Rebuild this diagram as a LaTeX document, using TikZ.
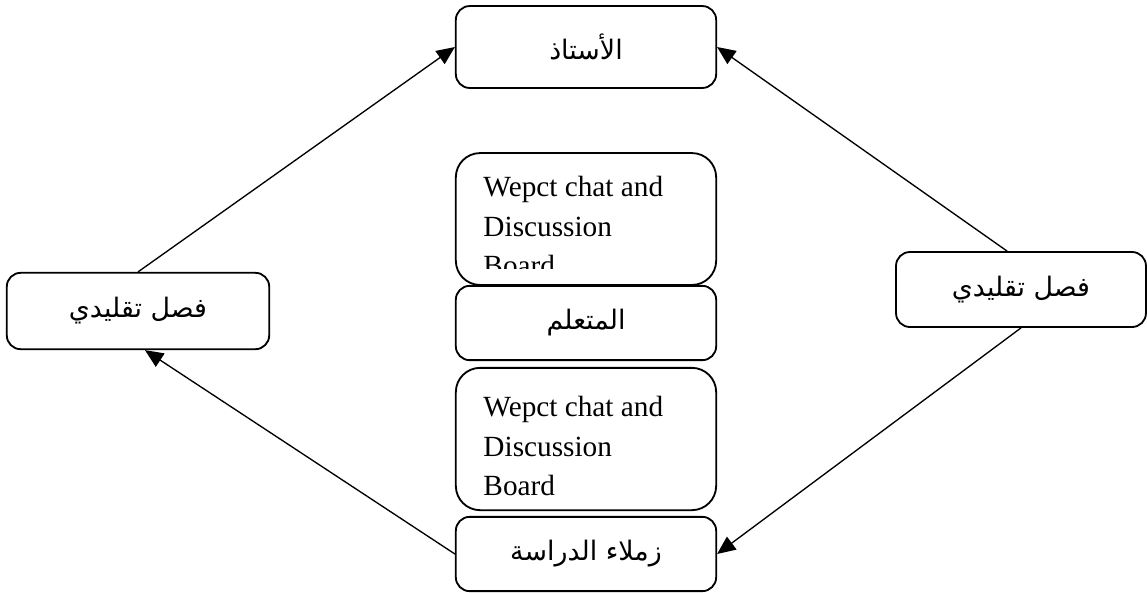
\documentclass[tikz,border=0pt]{standalone}
\usepackage{fontspec}
\setmainfont{Liberation Serif}
\newfontfamily\arabicfont[Script=Arabic]{DejaVu Sans}
\TeXXeTstate=1
\usetikzlibrary{arrows.meta}
\newcommand{\artxt}[1]{{\arabicfont\beginR #1\endR}}

\begin{document}
\begin{tikzpicture}[x=0.01441cm,y=-0.01441cm,
    box/.style={draw,line width=0.75pt,rounded corners=0.2cm,minimum width=3.75cm,inner sep=0pt,font=\fontsize{11}{13}\selectfont},
    tallbox/.style={box,rounded corners=0.35cm},
    boardtext/.style={anchor=north west,align=left,inner sep=0pt,font=\fontsize{12}{16.2}\selectfont},
    link/.style={line width=0.55pt,-{Triangle[length=7.5pt,width=6.5pt]}}]
    \useasboundingbox (0,0) rectangle (1147,592);

    % middle column
    \node[box,minimum height=1.18cm] (teacher) at (586,47) {\artxt{الأستاذ}};
    \node[tallbox,minimum height=1.90cm] (board1) at (586,219) {};
    \begin{scope}
        \clip (456,153) rectangle (716,268);
        \node[boardtext] (board1txt) at (483,176) {Wepct chat and\\Discussion\\Board};
    \end{scope}
    \node[box,minimum height=1.07cm] (learner) at (586,323) {\artxt{المتعلم}};
    \node[tallbox,minimum height=2.05cm] (board2) at (586,439) {};
    \node[boardtext] (board2txt) at (483,396) {Wepct chat and\\Discussion\\Board};
    \node[box,minimum height=1.07cm] (peers) at (586,554) {\artxt{زملاء الدراسة}};

    % side boxes
    \node[box,minimum width=3.78cm,minimum height=1.10cm] (classL) at (138,311) {\artxt{فصل تقليدي}};
    \node[box,minimum width=3.60cm,minimum height=1.08cm] (classR) at (1021,289.5) {\artxt{فصل تقليدي}};

    % arrows
    \draw[link] (classL.north) -- (teacher.west);
    \draw[link] ([xshift=-0.2cm]classR.north) -- (teacher.east);
    \draw[link] (classR.south) -- (peers.east);
    \draw[link] (peers.west) -- ([xshift=0.1cm]classL.south);

\end{tikzpicture}
\end{document}
